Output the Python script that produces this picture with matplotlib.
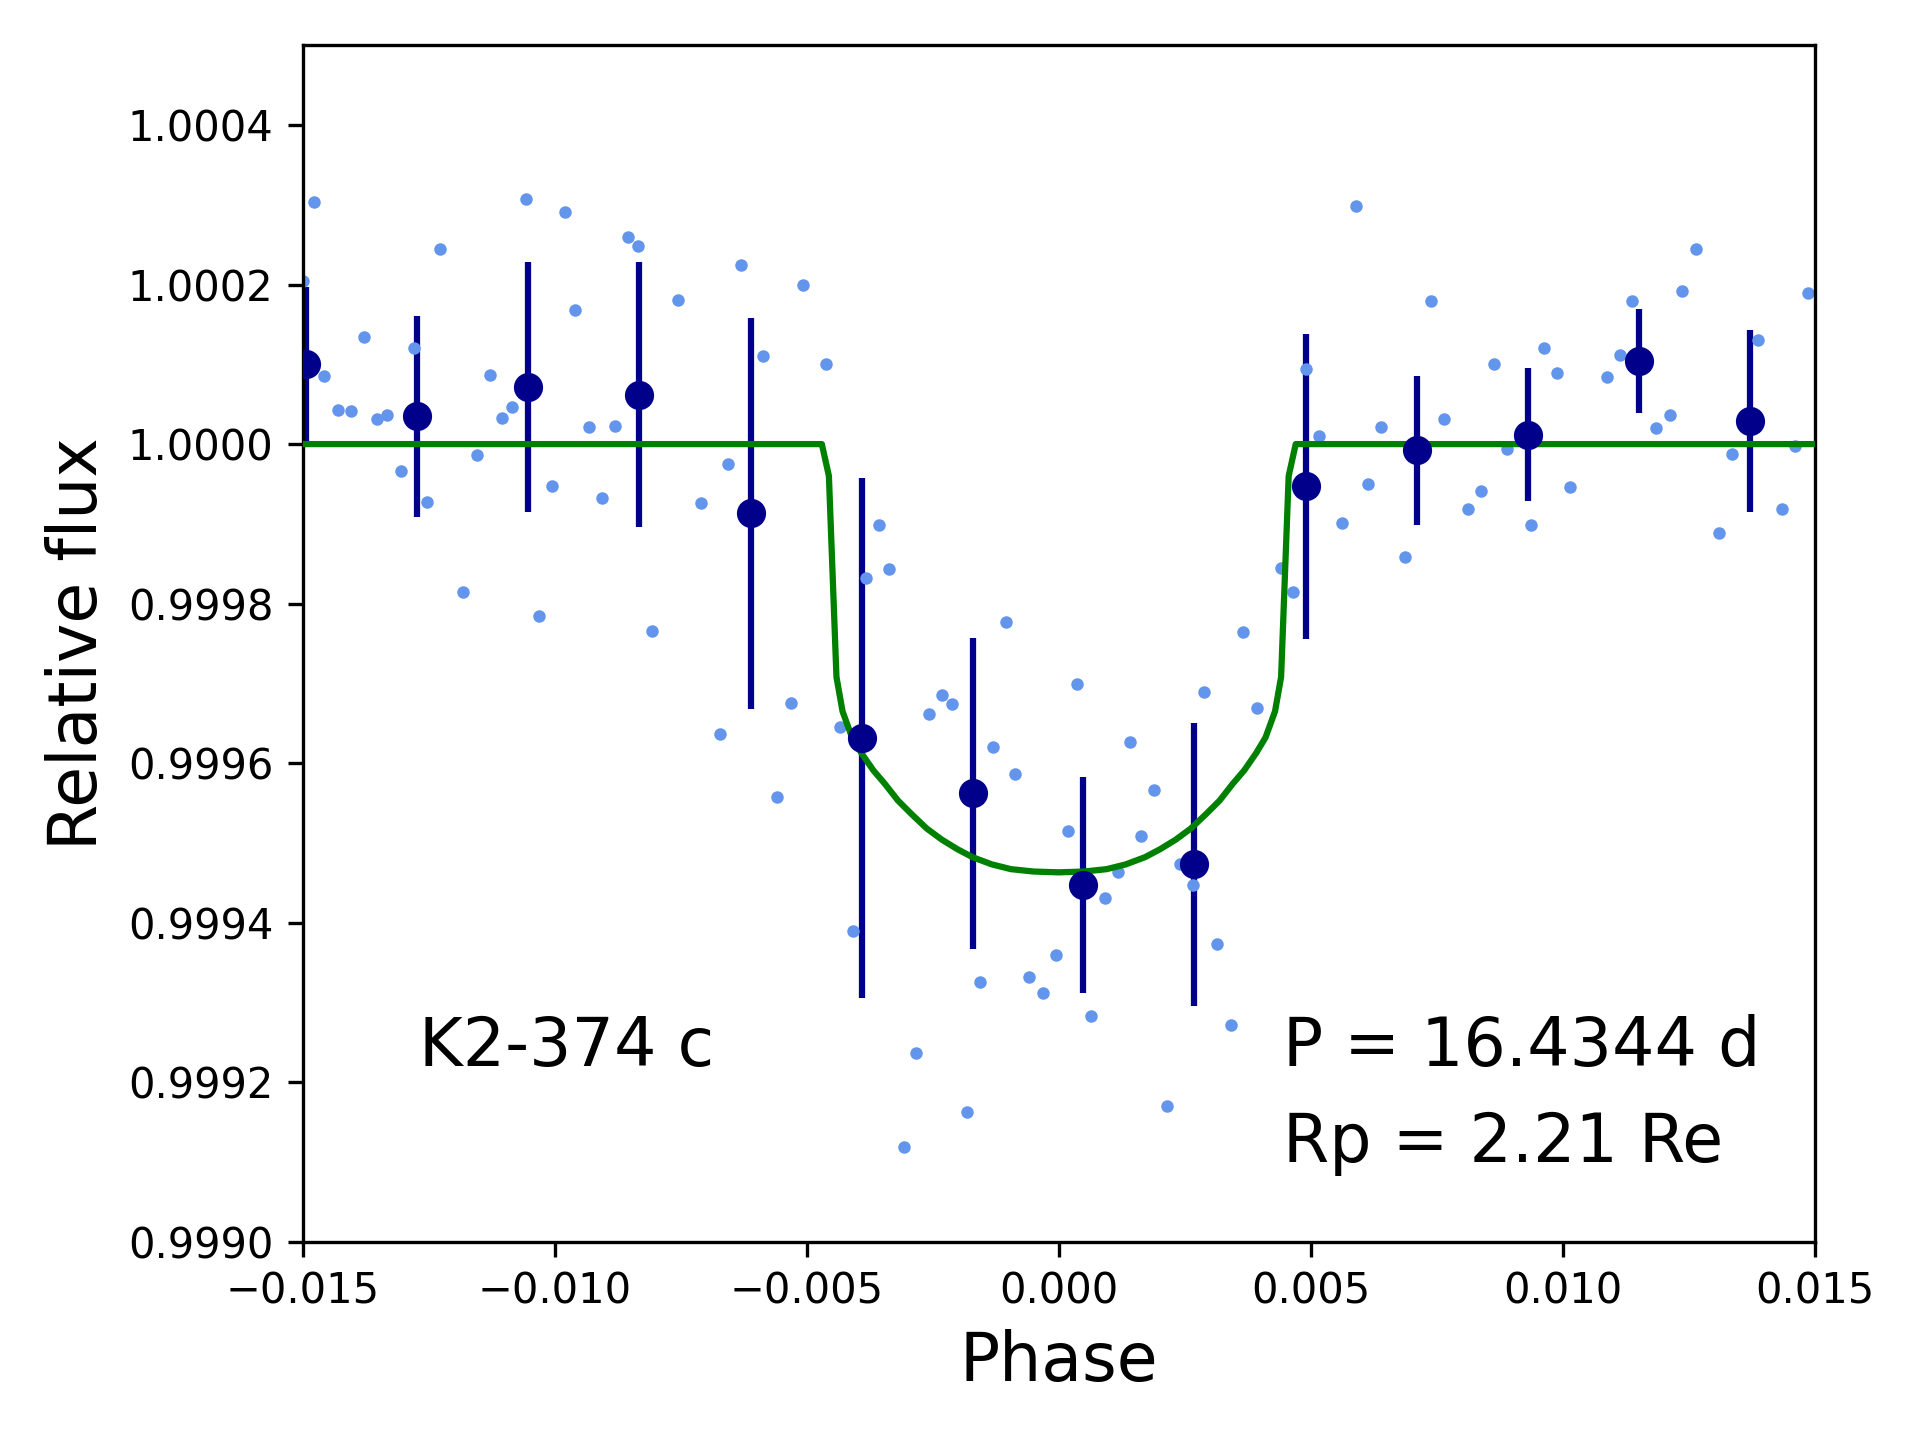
import matplotlib
matplotlib.use('Agg')
import matplotlib.pyplot as plt
from matplotlib.ticker import ScalarFormatter

# unbinned phase-folded photometry
phase = [-0.014984, -0.014766, -0.014568, -0.014290, -0.014038, -0.013774, -0.013522, -0.013318,
         -0.013040, -0.012782, -0.012524, -0.012267, -0.011810, -0.011533, -0.011275, -0.011037,
         -0.010839, -0.010561, -0.010303, -0.010045, -0.009787, -0.009589, -0.009311, -0.009054,
         -0.008796, -0.008538, -0.008340, -0.008062, -0.007546, -0.007090, -0.006719, -0.006556,
         -0.006294, -0.005862, -0.005580, -0.005307, -0.005069, -0.004609, -0.004335, -0.004077,
         -0.003815, -0.003559, -0.003361, -0.003075, -0.002825, -0.002568, -0.002310, -0.002111,
         -0.001830, -0.001572, -0.001314, -0.001056, -0.000860, -0.000586, -0.000320, -0.000062,
         0.000174, 0.000370, 0.000644, 0.000925, 0.001168, 0.001419, 0.001624, 0.001897,
         0.002155, 0.002405, 0.002671, 0.002875, 0.003141, 0.003407, 0.003658, 0.003922,
         0.004400, 0.004653, 0.004910, 0.005168, 0.005624, 0.005902, 0.006134, 0.006398,
         0.006874, 0.007389, 0.007647, 0.008123, 0.008381, 0.008639, 0.008897, 0.009373,
         0.009625, 0.009889, 0.010146, 0.010880, 0.011138, 0.011376, 0.011852, 0.012130,
         0.012368, 0.012633, 0.013102, 0.013360, 0.013869, 0.014352, 0.014609, 0.014867]
flux = [1.000204, 1.000304, 1.000085, 1.000043, 1.000041, 1.000134, 1.000031, 1.000037,
        0.999966, 1.000121, 0.999927, 1.000245, 0.999814, 0.999986, 1.000087, 1.000033,
        1.000046, 1.000307, 0.999784, 0.999947, 1.000291, 1.000168, 1.000022, 0.999933,
        1.000023, 1.000260, 1.000248, 0.999766, 1.000181, 0.999926, 0.999636, 0.999975,
        1.000225, 1.000111, 0.999557, 0.999675, 1.000199, 1.000100, 0.999645, 0.999389,
        0.999832, 0.999898, 0.999844, 0.999118, 0.999237, 0.999662, 0.999685, 0.999674,
        0.999162, 0.999326, 0.999620, 0.999777, 0.999586, 0.999332, 0.999312, 0.999359,
        0.999515, 0.999699, 0.999283, 0.999431, 0.999464, 0.999627, 0.999509, 0.999566,
        0.999170, 0.999474, 0.999447, 0.999689, 0.999373, 0.999271, 0.999764, 0.999669,
        0.999845, 0.999815, 1.000094, 1.000010, 0.999901, 1.000299, 0.999950, 1.000022,
        0.999858, 1.000180, 1.000031, 0.999918, 0.999941, 1.000100, 0.999994, 0.999899,
        1.000120, 1.000089, 0.999946, 1.000084, 1.000112, 1.000179, 1.000020, 1.000037,
        1.000192, 1.000245, 0.999889, 0.999987, 1.000130, 0.999918, 0.999997, 1.000190]

# binned points
bin_phase = [-0.01493, -0.01273, -0.01052, -0.00832, -0.00611, -0.00391, -0.00171,
             0.00049, 0.00269, 0.00490, 0.00710, 0.00931, 0.01151, 0.01371]
bin_flux = [1.000100, 1.000035, 1.000072, 1.000062, 0.999913, 0.999632, 0.999562,
            0.999447, 0.999473, 0.999947, 0.999992, 1.000012, 1.000104, 1.000029]
bin_err = [0.0000966, 0.0001258, 0.0001567, 0.0001665, 0.0002456, 0.000326, 0.0001948,
           0.0001359, 0.000177, 0.000191, 0.0000937, 0.0000829, 0.000065, 0.0001137]

# transit model
model_phase = [-0.015, -0.00470, -0.00456, -0.00441, -0.00429, -0.00421, -0.00410, -0.00392,
               -0.00368, -0.00345, -0.00319, -0.00292, -0.00262, -0.00232, -0.00201, -0.00171,
               -0.00133, -0.00095, -0.00050, 0.0,
               0.00050, 0.00095, 0.00133, 0.00171, 0.00201, 0.00232, 0.00262, 0.00292,
               0.00319, 0.00345, 0.00368, 0.00392, 0.00410, 0.00421, 0.00429, 0.00441,
               0.00456, 0.00470, 0.015]
model_flux = [1.0, 1.0, 0.999960, 0.999708, 0.999665, 0.999651, 0.999632, 0.999613,
              0.999591, 0.999574, 0.999553, 0.999536, 0.999518, 0.999504, 0.999492, 0.999482,
              0.999473, 0.999467, 0.999464, 0.999463,
              0.999464, 0.999467, 0.999473, 0.999482, 0.999492, 0.999504, 0.999518, 0.999536,
              0.999553, 0.999574, 0.999591, 0.999613, 0.999632, 0.999651, 0.999665, 0.999708,
              0.999960, 1.0, 1.0]

fig = plt.figure(figsize=(6.4, 4.8), dpi=300)
ax = fig.add_subplot(111)
fig.subplots_adjust(left=0.1576, right=0.9453, bottom=0.1378, top=0.9685)

ax.errorbar(bin_phase, bin_flux, yerr=bin_err, fmt='none', ecolor='darkblue', elinewidth=1.5, zorder=1)
ax.plot(phase, flux, 'o', color='cornflowerblue', ms=3, mew=0, zorder=2)
ax.plot(model_phase, model_flux, color='green', lw=1.5, zorder=3)
ax.plot(bin_phase, bin_flux, 'o', color='darkblue', ms=6, zorder=4)

ax.set_xlim(-0.015, 0.015)
ax.set_ylim(0.9990, 1.0005)
ax.set_yticks([0.9990, 0.9992, 0.9994, 0.9996, 0.9998, 1.0000, 1.0002, 1.0004])
ax.xaxis.set_major_formatter(ScalarFormatter(useOffset=False))
ax.yaxis.set_major_formatter(ScalarFormatter(useOffset=False))

ax.set_xlabel('Phase', fontsize=16)
ax.set_ylabel('Relative flux', fontsize=16)

ax.text(-0.0127, 0.99922, 'K2-374 c', fontsize=16, va='baseline')
ax.text(0.00445, 0.99922, 'P = 16.4344 d', fontsize=16, va='baseline')
ax.text(0.00445, 0.99910, 'Rp = 2.21 Re', fontsize=16, va='baseline')

plt.savefig('out.png', dpi=300)
